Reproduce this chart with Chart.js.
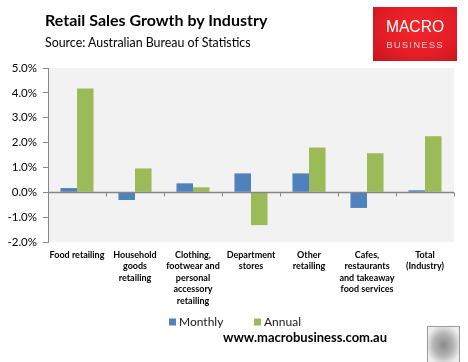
<!DOCTYPE html>
<html><head><meta charset="utf-8">
<script src="https://cdn.jsdelivr.net/npm/chart.js@4/dist/chart.umd.min.js"></script>
<style>
html,body{margin:0;padding:0;background:#fff;}
#wrap{position:relative;width:468px;height:362px;overflow:hidden;font-family:Lato,"Liberation Sans",sans-serif;}
canvas{position:absolute;left:0;top:0;}
.t{position:absolute;white-space:nowrap;color:#000;}
#title{left:45px;top:10px;font-size:16px;font-weight:bold;}
#sub{left:45px;top:35px;font-size:12.4px;}
#logo{position:absolute;left:373px;top:7px;width:84px;height:54px;background:radial-gradient(ellipse at 55% 40%,#f0262d 0%,#e41e26 55%,#c8141b 100%);}
#logo .m{position:absolute;left:0;width:84px;text-align:center;top:10px;color:#fff;font-size:17px;font-family:"Liberation Sans",sans-serif;transform:scaleX(0.92);}
#logo .b{position:absolute;left:0;width:84px;text-align:center;top:32px;color:#f7c7c7;font-size:9.5px;letter-spacing:1.2px;font-family:"Liberation Sans",sans-serif;}
#foot{left:223px;top:329px;font-size:13px;font-weight:bold;}
#wolf{position:absolute;left:427px;top:326px;width:31px;height:36px;border:1px solid #9a9a9a;background:radial-gradient(ellipse at 50% 50%,#8a8a8a 0%,#b5b5b5 45%,#eeeeee 80%);}
</style></head>
<body><div id="wrap">
<canvas id="c" width="468" height="362"></canvas>
<div class="t" id="title">Retail Sales Growth by Industry</div>
<div class="t" id="sub">Source: Australian Bureau of Statistics</div>
<div id="logo"><div class="m">MACRO</div><div class="b">BUSINESS</div></div>
<div class="t" id="foot">www.macrobusiness.com.au</div>
<div id="wolf"></div>
</div>
<script>
const categories = [
  ["Food retailing"],
  ["Household","goods","retailing"],
  ["Clothing,","footwear and","personal","accessory","retailing"],
  ["Department","stores"],
  ["Other","retailing"],
  ["Cafes,","restaurants","and takeaway","food services"],
  ["Total","(Industry)"]
];
const monthly = [0.17, -0.31, 0.36, 0.76, 0.76, -0.63, 0.08];
const annual  = [4.18, 0.96, 0.2, -1.32, 1.8, 1.57, 2.25];
const yTicks = [-2, -1, 0, 1, 2, 3, 4, 5];
const seriesNames = ["Monthly", "Annual"];
const seriesColors = ["#4f81bd", "#9bbb59"];

const axisGray = '#868686';

const plotBg = {
  id: 'plotBg',
  beforeDraw(chart) {
    const {ctx, chartArea: a} = chart;
    ctx.save();
    ctx.fillStyle = '#f2f2f2';
    ctx.fillRect(a.left, a.top, a.right - a.left, a.bottom - a.top);
    ctx.restore();
  },
  afterDatasetsDraw(chart) {
    const {ctx} = chart;
    const x = chart.scales.x, y = chart.scales.y;
    const y0 = Math.round(y.getPixelForValue(0)) + 0.5;
    ctx.save();
    ctx.strokeStyle = axisGray;
    ctx.lineWidth = 1.5;
    ctx.beginPath();
    ctx.moveTo(chart.chartArea.left, y0);
    ctx.lineTo(chart.chartArea.right, y0);
    ctx.stroke();
    ctx.lineWidth = 1;
    const n = categories.length;
    const w = (x.getPixelForValue(1) - x.getPixelForValue(0));
    for (let i = 0; i <= n; i++) {
      const px = Math.round(x.getPixelForValue(0) - w / 2 + i * w) + 0.5;
      ctx.beginPath();
      ctx.moveTo(px, y0);
      ctx.lineTo(px, y0 + 4);
      ctx.stroke();
    }
    ctx.restore();
  },
  afterDraw(chart) {
    const {ctx} = chart;
    ctx.save();
    ctx.font = '12px Lato, "Liberation Sans", sans-serif';
    ctx.textBaseline = 'middle';
    const starts = [169, 254];
    chart.data.datasets.forEach((ds, i) => {
      const bx = starts[i], by = 322;
      ctx.fillStyle = ds.backgroundColor;
      ctx.fillRect(bx, by - 3.5, 7, 7);
      ctx.fillStyle = '#1a1a1a';
      ctx.fillText(ds.label, bx + 10, by);
    });
    ctx.restore();
  }
};

new Chart(document.getElementById('c'), {
  type: 'bar',
  data: {
    labels: categories,
    datasets: [
      {label: seriesNames[0], data: monthly, backgroundColor: seriesColors[0]},
      {label: seriesNames[1], data: annual, backgroundColor: seriesColors[1]}
    ]
  },
  options: {
    responsive: false,
    animation: false,
    devicePixelRatio: 1,
    layout: {padding: {top: 68, right: 14, left: 0, bottom: 0}},
    datasets: {bar: {categoryPercentage: 0.57, barPercentage: 1.0}},
    plugins: {legend: {display: false}, tooltip: {enabled: false}, title: {display: false}},
    scales: {
      x: {
        grid: {display: false, drawTicks: false},
        border: {display: false},
        ticks: {
          autoSkip: false, maxRotation: 0, minRotation: 0, padding: 7,
          color: '#000',
          font: {family: 'Lato, "Liberation Sans", sans-serif', size: 9, weight: 'bold', lineHeight: 1.28}
        },
        afterFit(s) { s.height = 120; }
      },
      y: {
        min: -2, max: 5,
        afterBuildTicks(s) { s.ticks = yTicks.map(v => ({value: v})); },
        grid: {display: true, drawOnChartArea: false, drawTicks: true, tickLength: 5, tickColor: axisGray},
        border: {display: true, color: axisGray, width: 1},
        ticks: {
          padding: 6, color: '#000',
          font: {family: 'Lato, "Liberation Sans", sans-serif', size: 11.5},
          callback: v => v.toFixed(1) + '%'
        },
        afterFit(s) { s.width = 48; }
      }
    }
  },
  plugins: [plotBg]
});
</script>
</body></html>
